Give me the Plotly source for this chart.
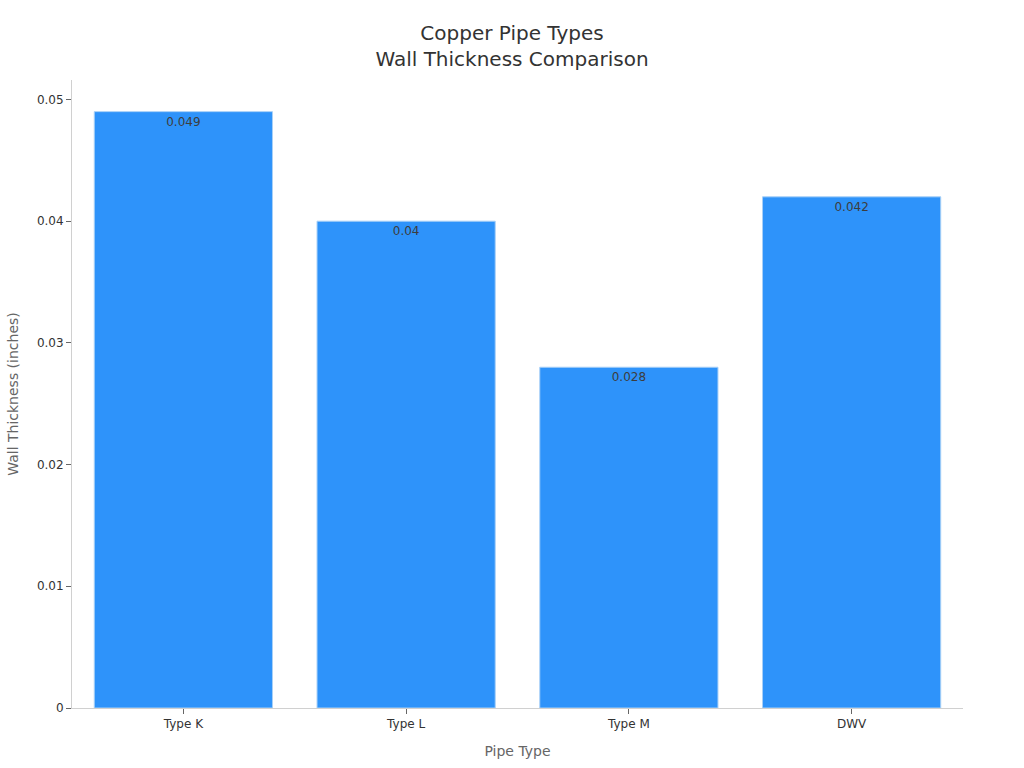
import plotly.graph_objects as go

categories = ["Type K", "Type L", "Type M", "DWV"]
thickness = [0.049, 0.040, 0.028, 0.042]
tick_vals = [0, 0.01, 0.02, 0.03, 0.04, 0.05]
tick_text = ["0", "0.01", "0.02", "0.03", "0.04", "0.05"]

fig = go.Figure(go.Bar(
    x=categories,
    y=thickness,
    text=[str(v) for v in thickness],
    textposition="inside",
    insidetextanchor="end",
    textfont=dict(color="#3d3d3d", size=12, family="DejaVu Sans"),
    marker=dict(color="#2E93FA", line=dict(color="#a8d0f7", width=1)),
))

fig.update_layout(
    width=1024, height=768,
    paper_bgcolor="white", plot_bgcolor="white",
    font=dict(family="DejaVu Sans", color="#333333"),
    title=dict(text="Copper Pipe Types<br>Wall Thickness Comparison",
               x=0.5, xanchor="center", y=0.9485, yanchor="top",
               font=dict(size=20, color="#333333")),
    margin=dict(l=72, r=61, t=80, b=60),
    bargap=0.2,
    showlegend=False,
    xaxis=dict(title=dict(text="Pipe Type", font=dict(size=14, color="#666666"), standoff=15),
               showline=True, linecolor="#d0d0d0", linewidth=1,
               ticks="outside", tickcolor="#666666", ticklen=5,
               tickfont=dict(size=12, color="#333333"), showgrid=False),
    yaxis=dict(title=dict(text="Wall Thickness (inches)", font=dict(size=14, color="#666666"), standoff=14),
               range=[0, 0.0516], tickvals=tick_vals, ticktext=tick_text,
               showline=True, linecolor="#d0d0d0", linewidth=1,
               ticks="outside", tickcolor="#666666", ticklen=5,
               tickfont=dict(size=12, color="#333333"), showgrid=False, zeroline=False),
)

fig.write_html("out.html", config={"displayModeBar": False},
               post_script="document.body.style.margin='0';document.body.style.overflow='hidden';")
